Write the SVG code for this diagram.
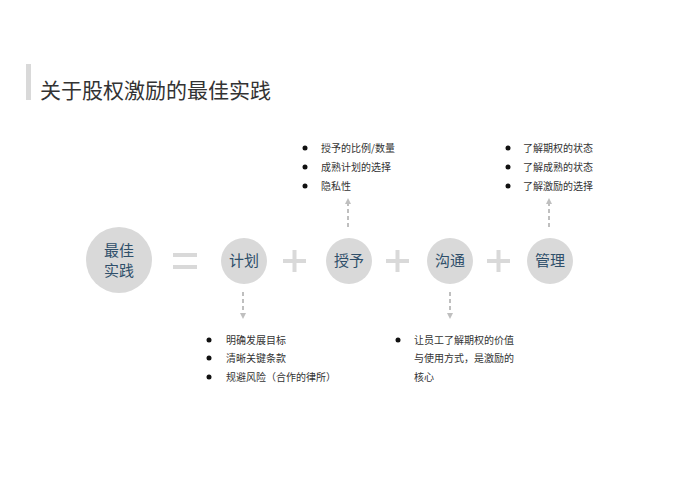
<svg xmlns="http://www.w3.org/2000/svg" width="700" height="500" viewBox="0 0 700 500">
<defs>
<style>
text{font-family:"Noto Sans CJK SC","Liberation Sans",sans-serif}
.c{fill:#d9d9d9}
.n{fill:#2f4f6a;font-size:15px;text-anchor:middle}
.t{fill:#333;font-size:10px}
.d{fill:#111}
.op{stroke:#d9d9d9;stroke-width:4}
.a{stroke:#bfbfbf;stroke-width:2;stroke-dasharray:4,3;fill:none;marker-end:url(#m)}
</style>
<marker id="m" viewBox="0 0 10 10" refX="5" refY="5" markerWidth="3" markerHeight="3" orient="auto"><path d="M0,0L10,5L0,10z" fill="#bfbfbf"/></marker>
</defs>
<rect width="700" height="500" fill="#fff"/>
<g id="title"><rect x="26" y="64" width="5" height="36" fill="#d9d9d9"/><text x="40" y="98" font-size="21" fill="#333" style="font-size:21px">关于股权激励的最佳实践</text></g>
<g id="best"><circle class="c" cx="119" cy="260" r="33"/><text class="n" x="119" y="256">最佳</text><text class="n" x="119" y="276">实践</text></g>
<g id="ops">
<line class="op" x1="173" y1="255" x2="197" y2="255"/><line class="op" x1="173" y1="267" x2="197" y2="267"/>
<line class="op" x1="283" y1="261" x2="306" y2="261"/><line class="op" x1="294.5" y1="250" x2="294.5" y2="272"/>
<line class="op" x1="386" y1="261" x2="409" y2="261"/><line class="op" x1="397.5" y1="250" x2="397.5" y2="272"/>
<line class="op" x1="487" y1="261" x2="510" y2="261"/><line class="op" x1="498.5" y1="250" x2="498.5" y2="272"/>
</g>
<g id="plan"><circle class="c" cx="244" cy="261" r="23"/><text class="n" x="244" y="266">计划</text></g>
<g id="grant"><circle class="c" cx="349" cy="261" r="23"/><text class="n" x="349" y="266">授予</text></g>
<g id="comm"><circle class="c" cx="450" cy="261" r="23"/><text class="n" x="450" y="266">沟通</text></g>
<g id="manage"><circle class="c" cx="550" cy="261" r="23"/><text class="n" x="550" y="266">管理</text></g>
<g id="connectors">
<path class="a" d="M243,292V316"/><path class="a" d="M348,227V201"/><path class="a" d="M450,292V316"/><path class="a" d="M549,227V201"/>
</g>
<g id="grant-list">
<circle class="d" cx="305" cy="148" r="2.5"/><circle class="d" cx="305" cy="167" r="2.5"/><circle class="d" cx="305" cy="186" r="2.5"/>
<text class="t" x="321" y="152">授予的比例/数量</text><text class="t" x="321" y="171">成熟计划的选择</text><text class="t" x="321" y="190">隐私性</text>
</g>
<g id="manage-list">
<circle class="d" cx="508" cy="148" r="2.5"/><circle class="d" cx="508" cy="167" r="2.5"/><circle class="d" cx="508" cy="186" r="2.5"/>
<text class="t" x="523" y="152">了解期权的状态</text><text class="t" x="523" y="171">了解成熟的状态</text><text class="t" x="523" y="190">了解激励的选择</text>
</g>
<g id="plan-list">
<circle class="d" cx="209" cy="340" r="2.5"/><circle class="d" cx="209" cy="358" r="2.5"/><circle class="d" cx="209" cy="377" r="2.5"/>
<text class="t" x="226" y="344">明确发展目标</text><text class="t" x="226" y="362">清晰关键条款</text><text class="t" x="226" y="381">规避风险（合作的律所）</text>
</g>
<g id="comm-list">
<circle class="d" cx="398" cy="340" r="2.5"/>
<text class="t" x="414" y="344">让员工了解期权的价值</text><text class="t" x="414" y="362">与使用方式，是激励的</text><text class="t" x="414" y="381">核心</text>
</g>
</svg>
